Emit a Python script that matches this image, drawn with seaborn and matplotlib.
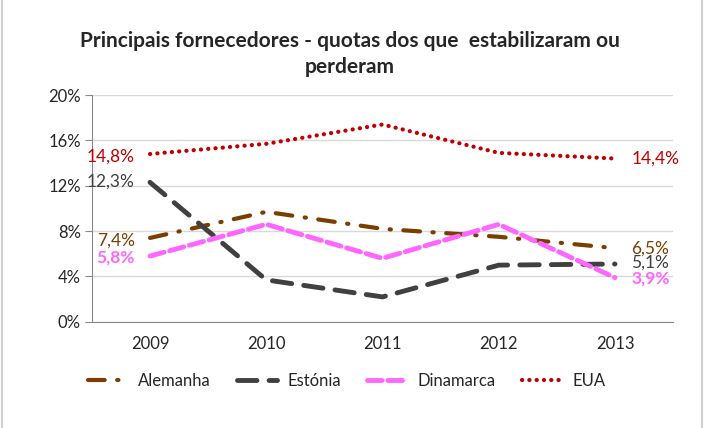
import numpy as np
import pandas as pd
import seaborn as sns
import matplotlib.pyplot as plt
from matplotlib.patches import Rectangle

# Dados ------------------------------------------------------------------------
anos = ["2009", "2010", "2011", "2012", "2013"]
alemanha = [7.4, 9.7, 8.2, 7.5, 6.5]
estonia = [12.3, 3.7, 2.2, 5.0, 5.1]
dinamarca = [5.8, 8.6, 5.6, 8.6, 3.9]
eua = [14.8, 15.7, 17.4, 14.9, 14.4]

series = {"Alemanha": alemanha, "Estónia": estonia, "Dinamarca": dinamarca, "EUA": eua}
cores = {"Alemanha": "#7A3E00", "Estónia": "#404040", "Dinamarca": "#FF66FF", "EUA": "#C00000"}
tracos = {"Alemanha": (4, 3, 0.3, 3), "Estónia": (4, 2.5), "Dinamarca": (3, 1.2),
          "EUA": (0.05, 1.7)}
larguras = {"Alemanha": 3.0, "Estónia": 3.5, "Dinamarca": 3.5, "EUA": 3.0}

df = pd.DataFrame([(s, i, v) for s, vals in series.items() for i, v in enumerate(vals)],
                  columns=["Serie", "x", "valor"])

sns.set_style("white")
plt.rcParams["font.family"] = ["Lato", "DejaVu Sans"]

fig = plt.figure(figsize=(7.07, 4.28), dpi=100)
ax = fig.add_axes([0.130, 0.248, 0.822, 0.530])

for nome in series:
    sub = df[df["Serie"] == nome]
    sns.lineplot(data=sub, x="x", y="valor", ax=ax, color=cores[nome],
                 linewidth=larguras[nome], label=nome)
    linha = ax.get_lines()[-1]
    linha.set_dashes(tracos[nome])
    linha.set_dash_capstyle("round")

# Rótulos de dados
def fmt(v):
    return f"{v:.1f}%".replace(".", ",")

esq_y = {"Alemanha": 7.2, "Estónia": 12.4, "Dinamarca": 5.7, "EUA": 14.6}
dir_y = {"Alemanha": 6.5, "Estónia": 5.2, "Dinamarca": 3.8, "EUA": 14.4}
for nome, vals in series.items():
    peso = "bold" if nome == "Dinamarca" else "normal"
    ax.text(-0.13, esq_y[nome], fmt(vals[0]), ha="right", va="center",
            color=cores[nome], fontsize=12.5, fontweight=peso)
    ax.text(4.14, dir_y[nome], fmt(vals[-1]), ha="left", va="center",
            color=cores[nome], fontsize=12.5, fontweight=peso)

ax.set_xlim(-0.5, 4.5)
ax.set_ylim(0, 20)
ax.set_yticks([0, 4, 8, 12, 16, 20])
ax.set_yticklabels([f"{t}%" for t in [0, 4, 8, 12, 16, 20]], fontsize=12)
ax.set_xticks(range(5))
ax.set_xticklabels(anos, fontsize=12)
ax.set_xticks(np.arange(-0.5, 5, 1), minor=True)
ax.tick_params(axis="x", which="major", length=0, pad=10)
ax.tick_params(axis="x", which="minor", length=5, color="#888888")
ax.tick_params(axis="y", length=5, color="#888888", left=True, pad=3)
ax.set_xlabel("")
ax.set_ylabel("")
ax.grid(axis="y", color="#D9D9D9", linewidth=1)
for lado in ["top", "right"]:
    ax.spines[lado].set_visible(False)
for lado in ["left", "bottom"]:
    ax.spines[lado].set_color("#888888")
ax.legend_.remove()

handles, labels = ax.get_legend_handles_labels()
fig.legend(handles, labels, loc="center", bbox_to_anchor=(0.49, 0.11), ncol=4,
           frameon=False, fontsize=12, handlelength=2.4, columnspacing=1.6,
           handletextpad=0.6)

fig.text(0.495, 0.905, "Principais fornecedores - quotas dos que  estabilizaram ou",
         ha="center", va="center", fontsize=15, fontweight="bold")
fig.text(0.495, 0.843, "perderam", ha="center", va="center", fontsize=15, fontweight="bold")

fig.patches.append(Rectangle((0.003, -0.01), 0.99, 1.02, transform=fig.transFigure,
                             fill=False, edgecolor="#D0D0D0", linewidth=1.5))

fig.savefig("out.png", dpi=100)
